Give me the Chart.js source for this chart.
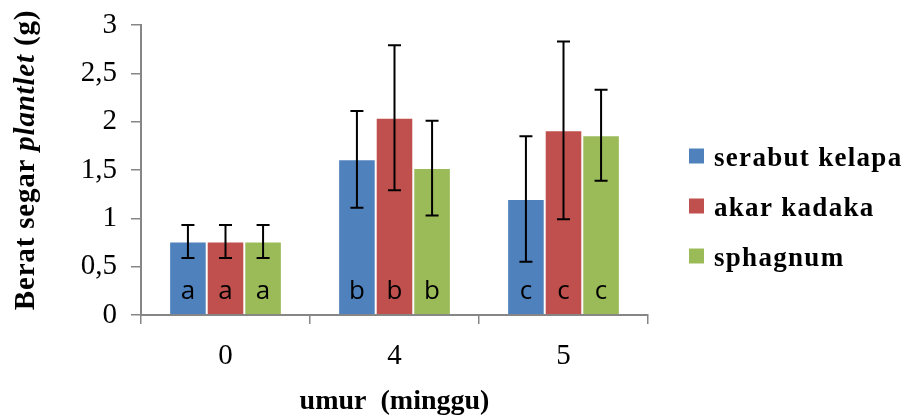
<!DOCTYPE html>
<html>
<head>
<meta charset="utf-8">
<script src="https://cdn.jsdelivr.net/npm/chart.js@4.4.1/dist/chart.umd.min.js"></script>
<style>
  body { margin: 0; background: #fff; }
  #wrap { width: 901px; height: 416px; position: relative; }
</style>
</head>
<body>
<div id="wrap"><canvas id="chart"></canvas></div>
<script>
// chart values
const categories = ['0', '4', '5'];
const seriesNames = ['serabut kelapa', 'akar kadaka', 'sphagnum'];
const serabutKelapa = [0.76, 1.61, 1.20];
const akarKadaka = [0.76, 2.04, 1.91];
const sphagnum = [0.76, 1.52, 1.86];
const errSerabut = [0.17, 0.50, 0.65];
const errAkar = [0.17, 0.75, 0.92];
const errSphagnum = [0.17, 0.49, 0.47];
const letters = ['a', 'b', 'c'];
const yTicks = [0, 0.5, 1, 1.5, 2, 2.5, 3];

const colors = ['#4F81BD', '#C0504D', '#9BBB59'];
const errors = [errSerabut, errAkar, errSphagnum];
const AXIS = '#868686';
const SERIF = '"Liberation Serif", "Times New Roman", serif';

/**
 * error bars, letters inside bars, axis titles and legend
 */
const extras = {
    id: 'extras',
    afterDatasetsDraw(chart) {
        const ctx = chart.ctx;
        const y = chart.scales.y;
        chart.data.datasets.forEach((ds, di) => {
            const meta = chart.getDatasetMeta(di);
            meta.data.forEach((bar, i) => {
                const v = ds.data[i];
                const e = errors[di][i];
                const top = y.getPixelForValue(v + e);
                const bot = y.getPixelForValue(v - e);
                ctx.save();
                ctx.strokeStyle = '#000';
                ctx.lineWidth = 2;
                ctx.beginPath();
                ctx.moveTo(bar.x, top); ctx.lineTo(bar.x, bot);
                ctx.moveTo(bar.x - 6.5, top); ctx.lineTo(bar.x + 6.5, top);
                ctx.moveTo(bar.x - 6.5, bot); ctx.lineTo(bar.x + 6.5, bot);
                ctx.stroke();
                ctx.fillStyle = '#000';
                ctx.font = '26px "Open Sans", sans-serif';
                ctx.textAlign = 'center';
                ctx.textBaseline = 'alphabetic';
                ctx.fillText(letters[i], bar.x, y.getPixelForValue(0) - 16);
                ctx.restore();
            });
        });
    },
    afterDraw(chart) {
        const ctx = chart.ctx;
        const area = chart.chartArea;
        ctx.save();
        ctx.fillStyle = '#000';

        // y axis title, mixed bold / bold italic
        const parts = [
            ['Berat segar ', 'bold 29px ' + SERIF],
            ['plantlet', 'italic bold 29px ' + SERIF],
            [' (g)', 'bold 29px ' + SERIF]
        ];
        ctx.letterSpacing = '0.8px';
        let total = 0;
        parts.forEach(p => { ctx.font = p[1]; total += ctx.measureText(p[0]).width; });
        ctx.save();
        ctx.translate(34, 160);
        ctx.rotate(-Math.PI / 2);
        ctx.textAlign = 'left';
        ctx.textBaseline = 'alphabetic';
        let x = -total / 2;
        parts.forEach(p => {
            ctx.font = p[1];
            ctx.fillText(p[0], x, 0);
            x += ctx.measureText(p[0]).width;
        });
        ctx.restore();

        // x axis title
        ctx.letterSpacing = '0px';
        ctx.font = 'bold 28px ' + SERIF;
        ctx.textAlign = 'center';
        ctx.textBaseline = 'alphabetic';
        ctx.fillText('umur  (minggu)', (area.left + area.right) / 2, 409);

        // legend
        ctx.letterSpacing = '1.3px';
        ctx.font = 'bold 27px ' + SERIF;
        ctx.textAlign = 'left';
        chart.data.datasets.forEach((ds, i) => {
            const cy = 156 + i * 50;
            ctx.fillStyle = ds.backgroundColor;
            ctx.fillRect(689, cy - 7.5, 15, 15);
            ctx.fillStyle = '#000';
            ctx.fillText(ds.label, 714, cy + 10);
        });
        ctx.restore();
    }
};

new Chart(document.getElementById('chart'), {
    type: 'bar',
    data: {
        labels: categories,
        datasets: [serabutKelapa, akarKadaka, sphagnum].map((d, i) => ({
            label: seriesNames[i],
            data: d,
            backgroundColor: colors[i],
            borderColor: 'rgba(255,255,255,0.35)',
            borderWidth: 1,
            barPercentage: 1,
            categoryPercentage: 0.667
        }))
    },
    options: {
        responsive: true,
        maintainAspectRatio: false,
        animation: false,
        layout: { padding: { top: 25, right: 253, left: 0, bottom: 0 } },
        plugins: {
            legend: { display: false },
            tooltip: { enabled: false }
        },
        scales: {
            x: {
                grid: { display: true, drawOnChartArea: false, offset: true, color: AXIS, lineWidth: 1.5, tickLength: 9 },
                border: { color: AXIS, width: 2 },
                ticks: { color: '#000', font: { family: SERIF, size: 29 }, padding: 15 },
                afterFit(scale) { scale.height = 101; }
            },
            y: {
                min: 0,
                max: 3,
                afterBuildTicks(scale) { scale.ticks = yTicks.map(v => ({ value: v })); },
                grid: { display: true, drawOnChartArea: false, color: AXIS, lineWidth: 1.5, tickLength: 10 },
                border: { color: AXIS, width: 2 },
                ticks: {
                    color: '#000',
                    font: { family: SERIF, size: 29 },
                    padding: 14,
                    callback: v => String(v).replace('.', ',')
                },
                afterFit(scale) {
                    scale.width = 141;
                    scale.paddingTop = 0;
                    scale.paddingBottom = 0;
                }
            }
        }
    },
    plugins: [extras]
});
</script>
</body>
</html>
